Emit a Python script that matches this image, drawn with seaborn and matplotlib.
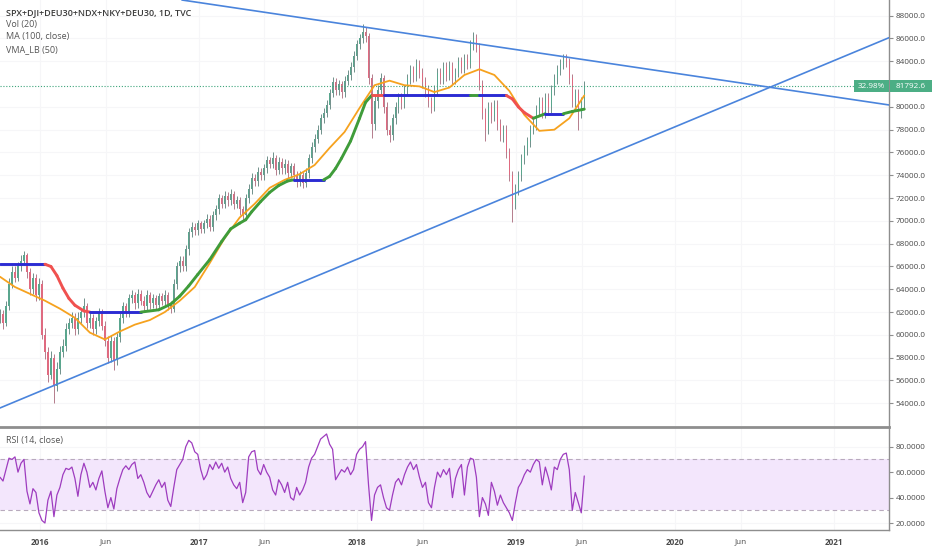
import numpy as np
import pandas as pd
import seaborn as sns
import matplotlib.pyplot as plt
import matplotlib.dates as mdates
from matplotlib.patches import Rectangle

sns.set_theme(style="white")
plt.rcParams["font.family"] = ["Open Sans", "DejaVu Sans"]

# weekly bars, prices in thousands
close_k = [
    61.8, 61.0, 62.5, 64.5, 65.5, 65.0, 66.0, 66.5, 67.0, 65.5,
    64.0, 65.0, 63.5, 64.5, 60.0, 58.5, 56.5, 58.0, 55.5, 57.0,
    58.5, 59.0, 60.5, 61.0, 61.5, 60.5, 61.5, 62.0, 62.5, 61.0,
    61.5, 60.5, 61.2, 62.0, 60.8, 59.5, 58.0, 59.5, 57.8, 59.8,
    61.5, 62.5, 62.0, 63.2, 63.5, 62.8, 63.6, 63.0, 62.5, 63.5,
    62.8, 63.2, 62.6, 63.4, 63.0, 63.5, 62.7, 62.3, 64.5, 66.0,
    66.5, 66.0, 67.5, 69.0, 69.5, 69.2, 69.8, 69.3, 69.8, 70.2,
    69.5, 70.5, 71.0, 72.0, 71.5, 72.2, 71.8, 72.4, 71.5, 71.8,
    71.0, 70.5, 72.0, 72.8, 73.8, 73.5, 74.3, 74.0, 74.6, 75.3,
    75.0, 75.5, 74.5, 75.2, 74.6, 75.0, 74.2, 74.8, 74.0, 73.5,
    74.0, 73.3, 74.2, 75.5, 76.5, 77.2, 78.0, 79.0, 79.5, 80.2,
    81.2, 82.2, 81.5, 82.0, 81.3, 82.3, 82.8, 83.5, 84.5, 85.5,
    86.0, 86.6, 86.2, 82.5, 78.5, 80.5, 81.5, 82.5, 80.0, 78.0,
    77.5, 79.0, 80.0, 80.8, 80.3, 81.5, 82.5, 83.3, 82.8, 83.8,
    83.0, 82.2, 81.5, 80.5, 80.0, 81.5, 83.0, 82.5, 83.5, 82.8,
    83.6, 82.5, 83.0, 84.0, 83.5, 84.2, 83.8, 85.5, 86.0, 85.2,
    82.0, 79.5, 78.0, 80.0, 79.2, 80.2, 78.5, 77.5, 78.0, 76.0,
    74.0, 71.5, 72.8, 74.0, 75.5, 76.3, 77.0, 78.0, 78.5, 79.8,
    80.5, 79.5, 80.8, 80.0, 81.5, 82.5, 83.3, 83.8, 84.2, 84.0,
    82.5, 80.5, 81.2, 79.5, 80.5, 81.7926,
]
high_k = [
    62.3, 62.2, 63.0, 65.0, 66.0, 66.0, 66.4, 67.0, 67.4, 67.2,
    65.9, 65.4, 65.3, 65.0, 64.8, 60.6, 58.9, 58.6, 58.3, 57.6,
    59.0, 59.6, 61.0, 61.5, 62.0, 61.9, 62.0, 62.4, 63.2, 62.8,
    61.9, 61.8, 61.6, 62.4, 62.3, 61.2, 59.9, 60.0, 59.8, 60.2,
    61.9, 62.9, 62.8, 63.6, 63.9, 63.8, 64.0, 63.9, 63.4, 63.9,
    63.8, 63.6, 63.5, 63.7, 63.7, 63.9, 63.8, 63.0, 64.9, 66.4,
    66.9, 66.9, 67.9, 69.4, 69.9, 69.8, 70.1, 70.0, 70.1, 70.6,
    70.5, 70.9, 71.4, 72.4, 72.3, 72.6, 72.5, 72.8, 72.6, 72.2,
    72.1, 71.3, 72.4, 73.2, 74.2, 74.1, 74.7, 74.6, 75.0, 75.7,
    75.6, 76.0, 75.8, 75.6, 75.5, 75.4, 75.3, 75.1, 75.1, 74.4,
    74.4, 74.3, 74.6, 75.9, 76.9, 77.6, 78.4, 79.4, 79.9, 80.6,
    81.6, 82.6, 82.5, 82.4, 82.3, 82.7, 83.2, 83.9, 84.9, 85.9,
    86.4, 87.3, 87.0, 86.5, 82.9, 81.0, 81.9, 83.0, 82.8, 80.4,
    78.4, 79.4, 80.4, 81.2, 81.2, 81.9, 82.9, 83.7, 83.6, 84.2,
    84.1, 83.4, 82.6, 81.9, 80.9, 81.9, 83.4, 83.4, 83.9, 83.9,
    84.0, 83.9, 83.4, 84.4, 84.4, 84.6, 84.6, 85.9, 86.6, 86.4,
    85.6, 82.4, 79.9, 80.4, 80.4, 80.6, 80.6, 78.9, 78.4, 78.4,
    76.4, 74.4, 73.2, 74.4, 75.9, 76.7, 77.4, 78.4, 78.9, 80.2,
    80.9, 80.9, 81.2, 81.2, 81.9, 82.9, 83.7, 84.2, 84.6, 84.6,
    84.3, 82.9, 81.6, 81.6, 80.9, 82.3,
]
low_k = [
    61.0, 60.5, 60.8, 62.2, 64.1, 64.6, 64.7, 65.6, 66.1, 65.0,
    63.5, 63.6, 63.0, 63.1, 59.6, 57.9, 55.9, 56.1, 54.0, 55.1,
    56.6, 58.1, 58.6, 60.1, 60.6, 60.0, 60.1, 61.0, 61.6, 60.6,
    60.6, 60.0, 60.1, 60.8, 60.4, 59.0, 57.5, 57.6, 56.9, 57.4,
    59.4, 61.0, 61.6, 61.6, 62.8, 62.3, 62.4, 62.6, 62.0, 62.1,
    62.3, 62.4, 62.2, 62.2, 62.6, 62.6, 62.2, 61.9, 62.0, 64.0,
    65.5, 65.6, 65.6, 67.0, 68.6, 68.8, 68.8, 68.9, 68.9, 69.4,
    69.1, 69.1, 70.1, 70.6, 71.1, 71.1, 71.3, 71.4, 71.0, 71.1,
    70.5, 70.0, 70.2, 71.6, 72.4, 73.1, 73.1, 73.6, 73.6, 74.2,
    74.6, 74.6, 74.0, 74.1, 74.1, 74.1, 73.8, 73.8, 73.5, 73.0,
    73.1, 72.9, 73.0, 73.8, 75.1, 76.0, 76.8, 77.6, 78.6, 79.1,
    79.8, 80.9, 81.0, 81.0, 80.8, 80.9, 81.9, 82.4, 83.1, 84.1,
    85.1, 85.6, 85.7, 82.0, 77.3, 78.0, 79.9, 81.0, 79.5, 77.5,
    76.9, 77.1, 78.5, 79.5, 79.8, 79.9, 81.0, 82.0, 82.2, 82.3,
    82.5, 81.7, 80.9, 80.0, 79.5, 79.6, 81.0, 82.0, 82.0, 82.3,
    82.4, 82.0, 82.0, 82.6, 83.0, 83.0, 83.3, 83.4, 85.0, 84.8,
    81.5, 78.9, 77.0, 77.6, 78.6, 78.8, 78.0, 77.0, 76.9, 75.5,
    73.5, 69.9, 71.0, 72.3, 73.5, 75.0, 75.8, 76.5, 77.6, 78.0,
    79.3, 79.0, 79.0, 79.5, 79.5, 81.0, 82.0, 82.8, 83.3, 83.5,
    82.0, 80.0, 80.0, 78.0, 79.0, 79.9,
]
rsi_vals = [
    56, 53, 62, 71, 70, 72, 60, 67, 70, 45,
    35, 47, 44, 28, 22, 20, 38, 45, 25, 42,
    48, 58, 63, 62, 64, 55, 41, 58, 67, 60,
    48, 52, 46, 55, 61, 45, 32, 40, 31, 47,
    55, 62, 65, 62, 66, 68, 55, 58, 52, 44,
    40, 45, 50, 54, 48, 52, 38, 33, 48, 62,
    66, 70, 80, 85, 83, 76, 74, 62, 54, 58,
    66, 62, 68, 63, 67, 60, 64, 55, 50, 47,
    52, 36, 44, 72, 76, 77, 62, 58, 66, 60,
    56, 46, 42, 54, 50, 44, 52, 40, 38, 48,
    42, 46, 52, 64, 71, 74, 80, 86, 88, 90,
    82, 78, 54, 58, 62, 60, 64, 58, 62, 74,
    78, 80, 84, 50, 22, 42, 48, 50, 40, 32,
    30, 42, 52, 55, 50, 58, 64, 68, 62, 66,
    56, 48, 52, 36, 32, 48, 60, 56, 62, 58,
    63, 40, 55, 62, 66, 42, 64, 71, 70, 56,
    25, 40, 35, 26, 52, 45, 34, 42, 36, 32,
    28, 22, 36, 48, 52, 58, 62, 60, 66, 70,
    68, 50, 64, 56, 46, 64, 62, 70, 74, 75,
    62, 30, 44, 36, 28, 57,
]
# MA(100, close), read at every 5th bar
ma100_k = [
    65.1, 64.2, 63.6, 63.0, 62.3, 61.5, 60.2, 59.6, 60.3, 60.9,
    61.3, 62.0, 63.0, 64.2, 66.3, 68.5, 70.3, 71.5, 72.9, 73.6,
    74.1, 74.9, 76.4, 77.8, 79.9, 81.9, 82.3, 81.9, 81.8, 81.3,
    81.7, 82.8, 83.3, 82.8, 81.4, 79.3, 77.9, 78.0, 79.0, 81.0,
]
# VMA_LB(50): bar index, value, colour of the segment ending there
vma_idx = [0, 15, 17, 19, 21, 23, 25, 28, 30,
           47, 53, 57, 60, 63, 66, 70, 74, 77, 80, 82, 84, 87, 90, 93, 96, 98,
           108, 110, 112, 114, 117, 120, 122, 124,
           128, 157, 160, 169, 171, 173, 175, 178, 182, 188, 191, 195]
vma_k = [66.2, 66.2, 66.0, 65.2, 64.1, 63.2, 62.6, 62.1, 62.0,
         62.0, 62.2, 62.7, 63.4, 64.3, 65.3, 66.6, 68.2, 69.3, 69.8, 70.1, 70.8, 71.7, 72.5, 73.1, 73.5, 73.6,
         73.6, 73.9, 74.6, 75.5, 77.0, 79.0, 80.4, 81.0,
         81.0, 81.0, 81.0, 81.0, 80.7, 80.0, 79.5, 79.0, 79.4, 79.4, 79.6, 79.8]
vma_col = list("b" + "r" * 7 + "b" + "g" * 16 + "b" + "g" * 7 + "r" + "b" + "g" + "b" + "r" * 4 + "g" + "b" + "gg")

last_price = 81792.6
last_pct = "32.98%"
trend_down_dates = ["2019-07-12", "2021-05-08"]
trend_down_vals = [83940, 80170]
trend_up_dates = ["2015-10-02", "2021-05-08"]
trend_up_vals = [53590, 86070]

tick_dates = ["2016-01-01", "2016-06-01", "2017-01-01", "2017-06-01", "2018-01-01", "2018-06-01",
              "2019-01-01", "2019-06-01", "2020-01-01", "2020-06-01", "2021-01-01"]
tick_labels = ["2016", "Jun", "2017", "Jun", "2018", "Jun", "2019", "Jun", "2020", "Jun", "2021"]
price_ticks = [54000, 56000, 58000, 60000, 62000, 64000, 66000, 68000, 70000,
               72000, 74000, 76000, 78000, 80000, 84000, 86000, 88000]
rsi_ticks = [20, 40, 60, 80]

# ---------------------------------------------------------------
dates = pd.date_range("2015-10-02", "2019-06-07", periods=len(close_k))
c = np.array(close_k) * 1000
h = np.array(high_k) * 1000
l = np.array(low_k) * 1000
o = np.r_[c[0], c[:-1]]
up = c >= o

col_map = {"b": "#2b2bd3", "r": "#f0514f", "g": "#3f9c3a"}
txt = "#4a4a4a"
axis_col = "#8e8e8e"
grid_col = "#f6f6f8"

W, H = 932, 550
fig = plt.figure(figsize=(W / 100, H / 100), dpi=100)
ax = fig.add_axes([0, 1 - 426 / H, 889 / W, 426 / H])
ax2 = fig.add_axes([0, 1 - 530 / H, 889 / W, 103 / H])

xmin = mdates.date2num(pd.Timestamp("2015-10-02"))
xmax = mdates.date2num(pd.Timestamp("2021-05-08"))
xt = mdates.date2num(pd.to_datetime(tick_dates))

# candles
ax.vlines(dates, l, h, color=np.where(up, "#5a7f78", "#a8687a"), lw=0.6, zorder=2)
ax.bar(dates[up], (c - o)[up], bottom=o[up], width=3.2, color="#5aa68e", lw=0, zorder=2)
ax.bar(dates[~up], (c - o)[~up], bottom=o[~up], width=3.2, color="#df6a80", lw=0, zorder=2)

# MA(100)
sns.lineplot(x=dates[::5], y=np.array(ma100_k) * 1000, ax=ax, color="#f6a21e", linewidth=1.3, zorder=4)

# VMA_LB
vd = dates[vma_idx]
vv = np.array(vma_k) * 1000
for i in range(len(vma_col)):
    ax.plot(vd[i:i + 2], vv[i:i + 2], color=col_map[vma_col[i]], lw=2.1,
            solid_capstyle="round", zorder=5)

# trend lines
for ds, vs in [(trend_down_dates, trend_down_vals), (trend_up_dates, trend_up_vals)]:
    dn = mdates.date2num(pd.to_datetime(ds))
    ax.axline((dn[0], vs[0]), (dn[1], vs[1]), color="#4a84dc", lw=1.2, zorder=6)

# last price line
ax.axhline(last_price, color="#3fa57c", lw=0.8, ls=(0, (1, 1.6)), zorder=3)

ax.set_xlim(xmin, xmax)
ax.set_ylim(52008, 89377)
ax.set_xlabel("")
ax.set_ylabel("")
ax.set_xticks(xt)
ax.tick_params(axis="x", bottom=False, labelbottom=False)
ax.yaxis.tick_right()
ax.set_yticks(price_ticks)
ax.set_yticklabels([f"{v:.1f}" for v in price_ticks])
ax.tick_params(axis="y", length=3, width=0.8, color=axis_col, labelcolor=txt, labelsize=5.9, pad=2)
ax.grid(True, color=grid_col, lw=0.8)
for s in ["left", "top", "bottom"]:
    ax.spines[s].set_visible(False)
ax.spines["right"].set_color(axis_col)
ax.spines["right"].set_linewidth(1)

# RSI panel
ax2.axhspan(30, 70, color="#f3e6fc", lw=0, zorder=1)
for lv in (30, 70):
    ax2.axhline(lv, color="#b8aabd", lw=0.8, ls=(0, (4, 3)), zorder=2)
sns.lineplot(x=dates, y=rsi_vals, ax=ax2, color="#9e3cbf", linewidth=0.9, zorder=4)
ax2.set_xlim(xmin, xmax)
ax2.set_ylim(14.5, 95.5)
ax2.set_xlabel("")
ax2.set_ylabel("")
ax2.yaxis.tick_right()
ax2.set_yticks(rsi_ticks)
ax2.set_yticklabels([f"{v:.4f}" for v in rsi_ticks])
ax2.set_xticks(xt)
ax2.set_xticklabels(tick_labels)
for lab in ax2.get_xticklabels():
    if lab.get_text() != "Jun":
        lab.set_fontweight("bold")
ax2.tick_params(axis="both", length=3, width=0.8, color=axis_col, labelcolor=txt, labelsize=5.9, pad=2)
ax2.tick_params(axis="x", pad=3)
ax2.grid(True, color=grid_col, lw=0.8)
ax2.spines["left"].set_visible(False)
for s, lw in [("right", 1), ("bottom", 1), ("top", 2)]:
    ax2.spines[s].set_color(axis_col)
    ax2.spines[s].set_linewidth(lw)

# last price labels
fig.canvas.draw()
y_fig = fig.transFigure.inverted().transform(ax.transData.transform((xmin, last_price)))[1]
bh = 12 / H
fig.patches.append(Rectangle((854 / W, y_fig - bh / 2), 35 / W, bh, transform=fig.transFigure,
                             color="#4cae85", lw=0, zorder=10))
fig.patches.append(Rectangle((890 / W, y_fig - bh / 2), 42 / W, bh, transform=fig.transFigure,
                             color="#4cae85", lw=0, zorder=10))
fig.text(871.5 / W, y_fig, last_pct, color="white", fontsize=5.9, ha="center", va="center", zorder=11)
fig.text(911 / W, y_fig, f"{last_price:.1f}", color="white", fontsize=5.9, ha="center", va="center", zorder=11)

# legend texts
fig.text(6 / W, 1 - 12.3 / H, "SPX+DJI+DEU30+NDX+NKY+DEU30, 1D, TVC", fontsize=6.5,
         fontweight="semibold", color="#3a3a3a", va="center")
for k, s in enumerate(["Vol (20)", "MA (100, close)", "VMA_LB (50)"]):
    fig.text(6 / W, 1 - (24.5 + 12.4 * k) / H, s, fontsize=6.5, color="#555555", va="center")
fig.text(6 / W, 1 - 440 / H, "RSI (14, close)", fontsize=6.5, color="#555555", va="center")

fig.savefig("out.png", dpi=100)
